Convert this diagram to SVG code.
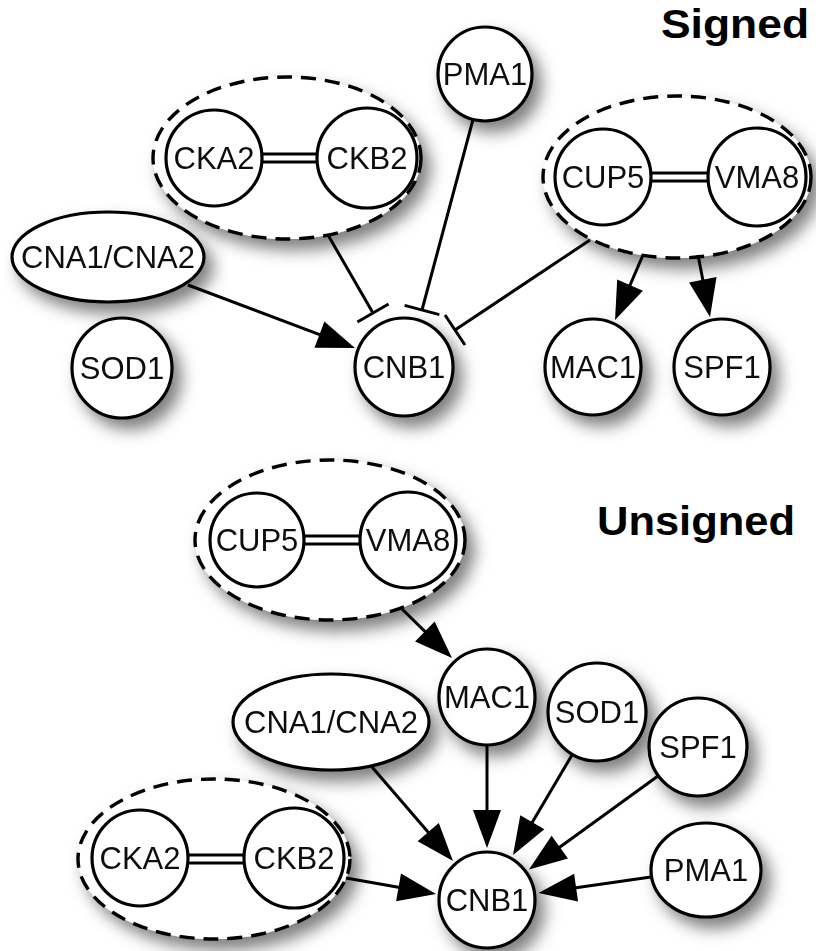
<svg xmlns="http://www.w3.org/2000/svg" width="816" height="951" viewBox="0 0 816 951">
  <defs>
    <style>
      .node { fill: #fff; stroke: #000; stroke-width: 3.2; }
      .group { fill: #fff; stroke: #000; stroke-width: 3.4; stroke-dasharray: 15 9; }
      .lbl { font-family: "Liberation Sans", Arial, Helvetica, sans-serif; font-size: 31px; fill: #111; text-anchor: middle; }
      .title { font-family: "Liberation Sans", Arial, Helvetica, sans-serif; font-size: 40px; font-weight: bold; fill: #000; }
      .bond { stroke: #000; stroke-width: 3; fill: none; }
      .edge { stroke: #000; stroke-width: 3; fill: none; }
      .act { marker-end: url(#arrow); }
      .inh { marker-end: url(#tee); }
      .shadowed { filter: url(#shadow); }
    </style>
    <filter id="shadow" x="-30%" y="-30%" width="180%" height="180%">
      <feDropShadow dx="8" dy="10" stdDeviation="8" flood-color="#000" flood-opacity="0.5"/>
    </filter>
    <marker id="arrow" markerUnits="userSpaceOnUse" markerWidth="38" markerHeight="28" viewBox="0 0 38 28" refX="30" refY="14" orient="auto" overflow="visible">
      <path d="M0,0 L38,14 L0,28 z" fill="#000"/>
    </marker>
    <marker id="tee" markerUnits="userSpaceOnUse" markerWidth="6" markerHeight="40" viewBox="-3 -20 6 40" refX="0" refY="0" orient="auto" overflow="visible">
      <line x1="0" y1="-18" x2="0" y2="18" stroke="#000" stroke-width="3"/>
    </marker>
  </defs>

  <rect width="816" height="951" fill="#fff"/>

  <!-- Section titles -->
  <text class="title" x="661" y="38" textLength="148" lengthAdjust="spacingAndGlyphs">Signed</text>
  <text class="title" x="597" y="535" textLength="198" lengthAdjust="spacingAndGlyphs">Unsigned</text>

  <!-- ===== Signed network ===== -->
  <g id="s-pma1" class="shadowed">
    <circle class="node" cx="485" cy="74" r="47"/>
    <text class="lbl" x="485" y="85">PMA1</text>
  </g>

  <g id="s-ck-complex" class="shadowed">
    <ellipse class="group" cx="287" cy="158" rx="134" ry="81"/>
    <circle class="node" cx="214" cy="158" r="48"/>
    <circle class="node" cx="367" cy="158" r="50"/>
    <line class="bond" x1="262" y1="154" x2="317" y2="154"/>
    <line class="bond" x1="262" y1="162" x2="317" y2="162"/>
    <text class="lbl" x="214" y="169">CKA2</text>
    <text class="lbl" x="367" y="169">CKB2</text>
  </g>

  <g id="s-cup-complex" class="shadowed">
    <ellipse class="group" cx="677" cy="177" rx="134" ry="81"/>
    <circle class="node" cx="603" cy="177" r="48"/>
    <circle class="node" cx="757" cy="177" r="49"/>
    <line class="bond" x1="651" y1="173" x2="708" y2="173"/>
    <line class="bond" x1="651" y1="181" x2="708" y2="181"/>
    <text class="lbl" x="603" y="188">CUP5</text>
    <text class="lbl" x="757" y="188">VMA8</text>
  </g>

  <g id="s-cna" class="shadowed">
    <ellipse class="node" cx="108" cy="257" rx="96" ry="45"/>
    <text class="lbl" x="108" y="268">CNA1/CNA2</text>
  </g>

  <g id="s-sod1" class="shadowed">
    <circle class="node" cx="122" cy="368" r="50"/>
    <text class="lbl" x="122" y="379">SOD1</text>
  </g>

  <g id="s-cnb1" class="shadowed">
    <circle class="node" cx="404" cy="367" r="49"/>
    <text class="lbl" x="404" y="378">CNB1</text>
  </g>

  <g id="s-mac1" class="shadowed">
    <circle class="node" cx="593" cy="367" r="48"/>
    <text class="lbl" x="593" y="378">MAC1</text>
  </g>

  <g id="s-spf1" class="shadowed">
    <circle class="node" cx="722" cy="367" r="48"/>
    <text class="lbl" x="722" y="378">SPF1</text>
  </g>

  <!-- ===== Unsigned network ===== -->
  <g id="u-cup-complex" class="shadowed">
    <ellipse class="group" cx="330" cy="540" rx="135" ry="80"/>
    <circle class="node" cx="257" cy="540" r="47"/>
    <circle class="node" cx="408" cy="540" r="48"/>
    <line class="bond" x1="304" y1="536" x2="360" y2="536"/>
    <line class="bond" x1="304" y1="544" x2="360" y2="544"/>
    <text class="lbl" x="257" y="551">CUP5</text>
    <text class="lbl" x="408" y="551">VMA8</text>
  </g>

  <g id="u-mac1" class="shadowed">
    <circle class="node" cx="487" cy="697" r="48"/>
    <text class="lbl" x="487" y="708">MAC1</text>
  </g>

  <g id="u-sod1" class="shadowed">
    <circle class="node" cx="597" cy="712" r="49"/>
    <text class="lbl" x="597" y="723">SOD1</text>
  </g>

  <g id="u-spf1" class="shadowed">
    <circle class="node" cx="698" cy="747" r="49"/>
    <text class="lbl" x="698" y="758">SPF1</text>
  </g>

  <g id="u-cna" class="shadowed">
    <ellipse class="node" cx="331" cy="722" rx="98" ry="48"/>
    <text class="lbl" x="331" y="733">CNA1/CNA2</text>
  </g>

  <g id="u-ck-complex" class="shadowed">
    <ellipse class="group" cx="214" cy="859" rx="136" ry="80"/>
    <circle class="node" cx="140" cy="858" r="48"/>
    <circle class="node" cx="294" cy="858" r="50"/>
    <line class="bond" x1="188" y1="855" x2="244" y2="855"/>
    <line class="bond" x1="188" y1="863" x2="244" y2="863"/>
    <text class="lbl" x="140" y="869">CKA2</text>
    <text class="lbl" x="294" y="869">CKB2</text>
  </g>

  <g id="u-pma1" class="shadowed">
    <ellipse class="node" cx="706" cy="870" rx="55" ry="47"/>
    <text class="lbl" x="706" y="881">PMA1</text>
  </g>

  <g id="u-cnb1" class="shadowed">
    <circle class="node" cx="487" cy="900" r="48"/>
    <text class="lbl" x="487" y="911">CNB1</text>
  </g>

  <!-- ===== Connectors ===== -->
  <g id="connectors">
    <!-- signed: inhibitions onto CNB1 -->
    <line class="edge inh" x1="328" y1="235" x2="373" y2="313"/>
    <line class="edge inh" x1="473" y1="119.5" x2="422" y2="310"/>
    <line class="edge inh" x1="590" y1="240" x2="455" y2="330"/>
    <!-- signed: activations -->
    <line class="edge act" x1="188" y1="285" x2="347.5" y2="345.2"/>
    <line class="edge act" x1="643" y1="255" x2="618.2" y2="312.7"/>
    <line class="edge act" x1="698" y1="255" x2="708.5" y2="309.2"/>
    <!-- unsigned -->
    <line class="edge act" x1="402" y1="609" x2="446.3" y2="652.4"/>
    <line class="edge act" x1="487" y1="745" x2="487" y2="840"/>
    <line class="edge act" x1="572" y1="755" x2="517.1" y2="848.1"/>
    <line class="edge act" x1="658" y1="776" x2="535.5" y2="864.8"/>
    <line class="edge act" x1="651" y1="877" x2="546.4" y2="891.9"/>
    <line class="edge act" x1="372" y1="767" x2="447.8" y2="854.9"/>
    <line class="edge act" x1="346" y1="878" x2="428.1" y2="892.6"/>
  </g>
</svg>
